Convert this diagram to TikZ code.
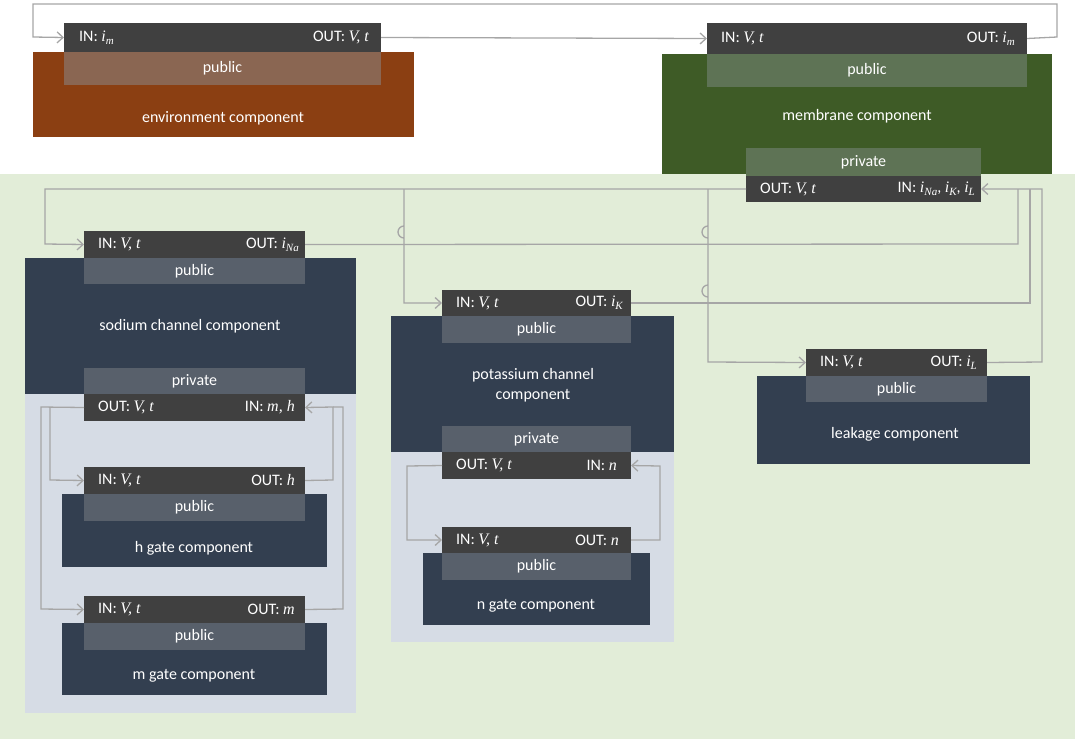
\documentclass[tikz,border=0pt]{standalone}
\usepackage{fontspec}
\setmainfont{Carlito}
\newfontfamily\tms{Liberation Serif}
\usetikzlibrary{arrows.meta}
\definecolor{barc}{HTML}{404040}
\definecolor{envc}{HTML}{8B3F12}
\definecolor{envpub}{HTML}{8A6652}
\definecolor{memc}{HTML}{3E5B26}
\definecolor{mempub}{HTML}{5E7355}
\definecolor{chc}{HTML}{333F50}
\definecolor{chpub}{HTML}{58606B}
\definecolor{lightc}{HTML}{D6DCE5}
\definecolor{bgc}{HTML}{E2EDD8}
\definecolor{linec}{HTML}{A6A6A6}
\newcommand\iv[1]{{\tms\itshape #1}}
\newcommand\sbs[1]{\raisebox{-3pt}{\fontsize{11}{11}\selectfont\tms\itshape #1}}
\newcommand\rbox[6]{\pgfmathsetmacro\cx{(#3+#5)/2}\pgfmathsetmacro\cy{(#4+#6)/2}\pgfmathsetmacro\ww{#5-#3}\pgfmathsetmacro\hh{#6-#4}\node[#1,minimum width=\ww pt,minimum height=\hh pt,inner sep=0pt,outer sep=0pt] (#2) at (\cx,\cy) {};}
\tikzset{
 bar/.style={fill=barc},
 lbl/.style={text=white,font=\fontsize{16}{18}\selectfont,inner sep=0pt},
 conn/.style={draw=linec,line width=1.3pt},
 arr/.style={conn,-{Straight Barb[length=6pt,width=11pt]}},
}
\begin{document}
\begin{tikzpicture}[x=1pt,y=-1pt]
\useasboundingbox (0,0) rectangle (1075,739);
\fill[bgc] (0,174) rectangle (1075,739);
% environment
\rbox{fill=envc}{env}{33}{52}{414}{137}
\rbox{bar}{envtop}{64}{23}{381}{52}
\rbox{fill=envpub}{envpub}{64}{52}{381}{85}
\node[lbl] at (envpub) {public};
\node[lbl] at (223,118) {environment component};
\node[lbl,anchor=west] at ([xshift=15pt]envtop.west) {IN: \iv{i}\sbs{m}};
\node[lbl,anchor=east] at ([xshift=-12pt]envtop.east) {OUT: \iv{V, t}};
% membrane
\rbox{fill=memc}{mem}{662}{54}{1052}{174}
\rbox{bar}{memtop}{707}{23}{1027}{54}
\rbox{fill=mempub}{mempub}{707}{54}{1027}{87}
\node[lbl] at (mempub) {public};
\node[lbl] at (857,116) {membrane component};
\rbox{fill=mempub}{mempriv}{746}{148}{981}{176}
\node[lbl] at (mempriv) {private};
\rbox{bar}{membot}{746}{176}{981}{202}
\node[lbl,anchor=west] at ([xshift=14pt]memtop.west) {IN: \iv{V, t}};
\node[lbl,anchor=east] at ([xshift=-12pt]memtop.east) {OUT: \iv{i}\sbs{m}};
\node[lbl,anchor=west] at ([xshift=14pt]membot.west) {OUT: \iv{V, t}};
\node[lbl,anchor=east] at ([xshift=-6pt]membot.east) {IN: \iv{i}\sbs{Na}, \iv{i}\sbs{K}, \iv{i}\sbs{L}};
% sodium
\rbox{fill=lightc}{nalight}{25}{394}{356}{713}
\rbox{fill=chc}{na}{25}{258}{356}{394}
\rbox{bar}{natop}{84}{231}{305}{258}
\rbox{fill=chpub}{napub}{84}{258}{305}{284}
\node[lbl] at (napub) {public};
\node[lbl] at (190,326) {sodium channel component};
\rbox{fill=chpub}{napriv}{84}{368}{305}{394}
\node[lbl] at (napriv) {private};
\rbox{bar}{nabot}{84}{394}{305}{421}
\node[lbl,anchor=west] at ([xshift=14pt]natop.west) {IN: \iv{V, t}};
\node[lbl,anchor=east] at ([xshift=-6pt]natop.east) {OUT: \iv{i}\sbs{Na}};
\node[lbl,anchor=west] at ([xshift=14pt]nabot.west) {OUT: \iv{V, t}};
\node[lbl,anchor=east] at ([xshift=-10pt]nabot.east) {IN: \iv{m, h}};
% h gate
\rbox{fill=chc}{h}{62}{494}{327}{567}
\rbox{bar}{htop}{84}{467}{305}{494}
\rbox{fill=chpub}{hpub}{84}{494}{305}{521}
\node[lbl] at (hpub) {public};
\node[lbl] at (194,548) {h gate component};
\node[lbl,anchor=west] at ([xshift=14pt]htop.west) {IN: \iv{V, t}};
\node[lbl,anchor=east] at ([xshift=-10pt]htop.east) {OUT: \iv{h}};
% m gate
\rbox{fill=chc}{m}{62}{623}{327}{695}
\rbox{bar}{mtop}{84}{596}{305}{623}
\rbox{fill=chpub}{mpub}{84}{623}{305}{650}
\node[lbl] at (mpub) {public};
\node[lbl] at (194,676) {m gate component};
\node[lbl,anchor=west] at ([xshift=14pt]mtop.west) {IN: \iv{V, t}};
\node[lbl,anchor=east] at ([xshift=-10pt]mtop.east) {OUT: \iv{m}};
% potassium
\rbox{fill=lightc}{klight}{391}{452}{674}{642}
\rbox{fill=chc}{k}{391}{316}{674}{452}
\rbox{bar}{ktop}{442}{290}{631}{316}
\rbox{fill=chpub}{kpub}{442}{316}{631}{343}
\node[lbl] at (kpub) {public};
\node[lbl,align=center] at (533,385) {potassium channel\\[2pt]component};
\rbox{fill=chpub}{kpriv}{442}{426}{631}{452}
\node[lbl] at (kpriv) {private};
\rbox{bar}{kbot}{442}{452}{631}{479}
\node[lbl,anchor=west] at ([xshift=14pt]ktop.west) {IN: \iv{V, t}};
\node[lbl,anchor=east] at ([xshift=-8pt]ktop.east) {OUT: \iv{i}\sbs{K}};
\node[lbl,anchor=west] at ([xshift=14pt]kbot.west) {OUT: \iv{V, t}};
\node[lbl,anchor=east] at ([xshift=-14pt]kbot.east) {IN: \iv{n}};
% n gate
\rbox{fill=chc}{n}{423}{553}{650}{625}
\rbox{bar}{ntop}{442}{527}{631}{553}
\rbox{fill=chpub}{npub}{442}{553}{631}{580}
\node[lbl] at (npub) {public};
\node[lbl] at (536,606) {n gate component};
\node[lbl,anchor=west] at ([xshift=14pt]ntop.west) {IN: \iv{V, t}};
\node[lbl,anchor=east] at ([xshift=-12pt]ntop.east) {OUT: \iv{n}};
% leakage
\rbox{fill=chc}{l}{757}{376}{1030}{464}
\rbox{bar}{ltop}{806}{349}{987}{376}
\rbox{fill=chpub}{lpub}{806}{376}{987}{402}
\node[lbl] at (lpub) {public};
\node[lbl] at (895,434) {leakage component};
\node[lbl,anchor=west] at ([xshift=14pt]ltop.west) {IN: \iv{V, t}};
\node[lbl,anchor=east] at ([xshift=-10pt]ltop.east) {OUT: \iv{i}\sbs{L}};
% connectors top
\draw[arr] (envtop.east) -- (memtop.west);
\draw[arr] (memtop.east) -- (1057,37) -- (1057,4) -- (33,4) -- (33,37) -- (envtop.west);
% membrane out to channels
\draw[arr] (membot.west) -- (45,189) -- (45,244) -- (natop.west);
\draw[arr] (404,189) -- (404,238) arc[start angle=90,end angle=270,radius=6] -- (404,303) -- (ktop.west);
\draw[arr] (708,189) -- (708,238) arc[start angle=90,end angle=270,radius=6] -- (708,297) arc[start angle=90,end angle=270,radius=6] -- (708,362) -- (ltop.west);
% channels back to membrane
\draw[conn] (natop.east) -- (1018,244) -- (1018,189);
\draw[conn] (ktop.east) -- (1030,303) -- (1030,189);
\draw[arr] (ltop.east) -- (1042,362) -- (1042,189) -- (membot.east);
% sodium internal
\draw[arr] (nabot.west) -- (41,407) -- (41,609) -- (mtop.west);
\draw[arr] (50,407) -- (50,480) -- (htop.west);
\draw[arr] (htop.east) -- (333,480) -- (333,407) -- (nabot.east);
\draw[conn] (mtop.east) -- (343,609) -- (343,407) -- (333,407);
% potassium internal
\draw[arr] (kbot.west) -- (407,466) -- (407,540) -- (ntop.west);
\draw[arr] (ntop.east) -- (660,540) -- (660,466) -- (kbot.east);
\end{tikzpicture}
\end{document}
